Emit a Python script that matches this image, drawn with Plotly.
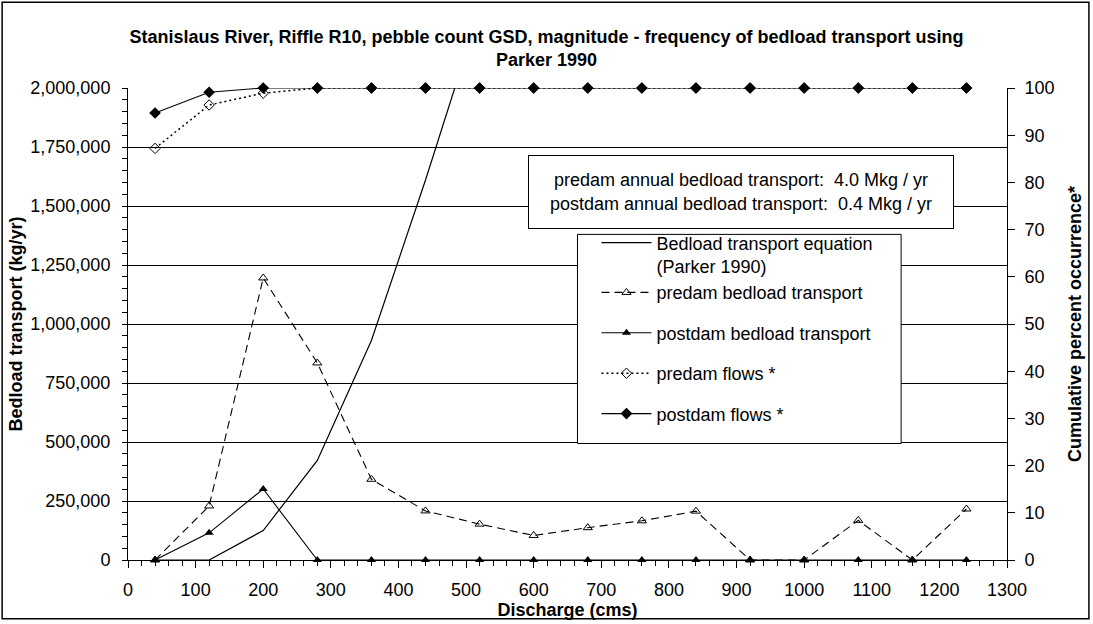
import plotly.graph_objects as go

# ---- data ----
discharge = [40, 120, 200, 280, 360, 440, 520, 600, 680, 760, 840, 920, 1000, 1080, 1160, 1240]
parker_q = [40, 120, 200, 280, 360, 440, 520]
parker_transport = [0, 0, 125000, 422000, 930000, 1610000, 2330000]
predam_transport = [0, 229000, 1195000, 835000, 342000, 208000, 152000, 104000, 137000,
                    166000, 207000, 0, 0, 168000, 0, 216000]
postdam_transport = [0, 115000, 301000, 0, 0, 0, 0, 0, 0, 0, 0, 0, 0, 0, 0, 0]
predam_flows = [87.2, 96.4, 98.9, 100, 100, 100, 100, 100, 100, 100, 100, 100, 100, 100, 100, 100]
postdam_flows = [94.7, 99.1, 100, 100, 100, 100, 100, 100, 100, 100, 100, 100, 100, 100, 100, 100]

title_text = ("Stanislaus River, Riffle R10, pebble count GSD, magnitude - frequency of bedload transport using"
              "<br>Parker 1990")
annot_lines = ["predam annual bedload transport:\u00a0 4.0 Mkg / yr",
               "postdam annual bedload transport:\u00a0 0.4 Mkg / yr"]

FONT = "Arial, Liberation Sans, sans-serif"
W, H = 1093, 624
ML, MR, MT, MB = 128, 85, 88, 62

fig = go.Figure()

fig.add_trace(go.Scatter(
    x=parker_q, y=parker_transport, mode="lines",
    name="Bedload transport equation<br>(Parker 1990)",
    line=dict(color="black", width=1.2), legendgroup="g1"))

fig.add_trace(go.Scatter(
    x=discharge, y=predam_transport, mode="lines+markers",
    name="predam bedload transport",
    line=dict(color="black", width=1.1, dash="8px,5px"),
    marker=dict(symbol="triangle-up-open", size=8, color="black", line=dict(width=1)),
    cliponaxis=False, legendgroup="g1"))

fig.add_trace(go.Scatter(
    x=discharge, y=postdam_transport, mode="lines+markers",
    name="postdam bedload transport",
    line=dict(color="black", width=1.1),
    marker=dict(symbol="triangle-up", size=8, color="black"),
    cliponaxis=False, legendgroup="g3"))

fig.add_trace(go.Scatter(
    x=discharge, y=predam_flows, mode="lines+markers", yaxis="y2",
    name="predam flows *",
    line=dict(color="black", width=1.5, dash="2px,3px"),
    marker=dict(symbol="diamond-open", size=8, color="black", line=dict(width=1)),
    cliponaxis=False, legendgroup="g4"))

fig.add_trace(go.Scatter(
    x=discharge, y=postdam_flows, mode="lines+markers", yaxis="y2",
    name="postdam flows *",
    line=dict(color="black", width=1.1),
    marker=dict(symbol="diamond", size=9, color="black"),
    cliponaxis=False, legendgroup="g5"))

pw = W - ML - MR
ph = H - MT - MB
def px2x(px):
    return (px - ML) / pw
def px2y(py):
    return (H - MB - py) / ph

fig.update_layout(
    width=W, height=H,
    margin=dict(l=ML, r=MR, t=MT, b=MB),
    paper_bgcolor="white", plot_bgcolor="white",
    font=dict(family=FONT, size=18, color="black"),
    title=dict(text=title_text, x=0.5, xref="container", y=1 - 43 / H, yref="container",
               yanchor="middle", xanchor="center",
               font=dict(family=FONT, size=18, color="black", weight="bold")),
    xaxis=dict(range=[0, 1300], dtick=100, tick0=0, showgrid=False, zeroline=False,
               showline=True, linecolor="black", linewidth=1,
               ticks="outside", ticklen=7, tickcolor="black", ticklabelstandoff=6,
               minor=dict(dtick=20, ticks="outside", ticklen=5, tickcolor="black", showgrid=False),
               title=dict(text="<b>Discharge (cms)</b>", standoff=0,
                          font=dict(family=FONT, size=18, color="black"))),
    yaxis=dict(range=[0, 2000000], dtick=250000, tick0=0, tickformat=",",
               showgrid=True, gridcolor="black", gridwidth=1, zeroline=False,
               showline=True, linecolor="black", linewidth=1,
               ticks="outside", ticklen=5, tickcolor="black", ticklabelstandoff=8,
               minor=dict(dtick=50000, ticks="outside", ticklen=5, tickcolor="black", showgrid=False),
               title=dict(text="<b>Bedload transport (kg/yr)</b>", standoff=3,
                          font=dict(family=FONT, size=18, color="black"))),
    yaxis2=dict(range=[0, 100], dtick=10, tick0=0, overlaying="y", side="right",
                showgrid=False, zeroline=False, showline=True, linecolor="black", linewidth=1,
                ticks="outside", ticklen=7, tickcolor="black", ticklabelstandoff=6,
                title=dict(text="<b>Cumulative percent occurrence*</b>", standoff=14,
                           font=dict(family=FONT, size=18, color="black"))),
    yaxis3=dict(range=[0, 100], dtick=10, tick0=0, overlaying="y", side="right", anchor="x",
                showgrid=False, zeroline=False, showline=False, showticklabels=False,
                ticks="inside", ticklen=7, tickcolor="black"),
    legend=dict(x=px2x(597), y=px2y(225), xanchor="left", yanchor="top",
                bgcolor="rgba(0,0,0,0)", borderwidth=0,
                font=dict(family=FONT, size=18, color="black"),
                traceorder="grouped", tracegroupgap=14, itemwidth=50, valign="top"),
    showlegend=True,
)

# legend frame (white box behind the legend entries)
fig.add_shape(type="rect", xref="paper", yref="paper",
              x0=px2x(578), x1=px2x(902), y0=px2y(445), y1=px2y(235),
              line=dict(color="black", width=1), fillcolor="white", layer="above")

fig.add_annotation(
    xref="paper", yref="paper", x=px2x(742), y=px2y(192), xanchor="center", yanchor="middle",
    text="<br>".join(annot_lines), showarrow=False, align="center",
    font=dict(family=FONT, size=18, color="black"),
    bgcolor="white", bordercolor="black", borderwidth=1, borderpad=2, width=420, height=68)

# outer chart border
fig.add_shape(type="rect", xref="paper", yref="paper",
              x0=px2x(2), x1=px2x(W - 3), y0=px2y(H - 3), y1=px2y(2),
              line=dict(color="black", width=1.5), fillcolor="rgba(0,0,0,0)", layer="above")

fig.write_html("out.html")
